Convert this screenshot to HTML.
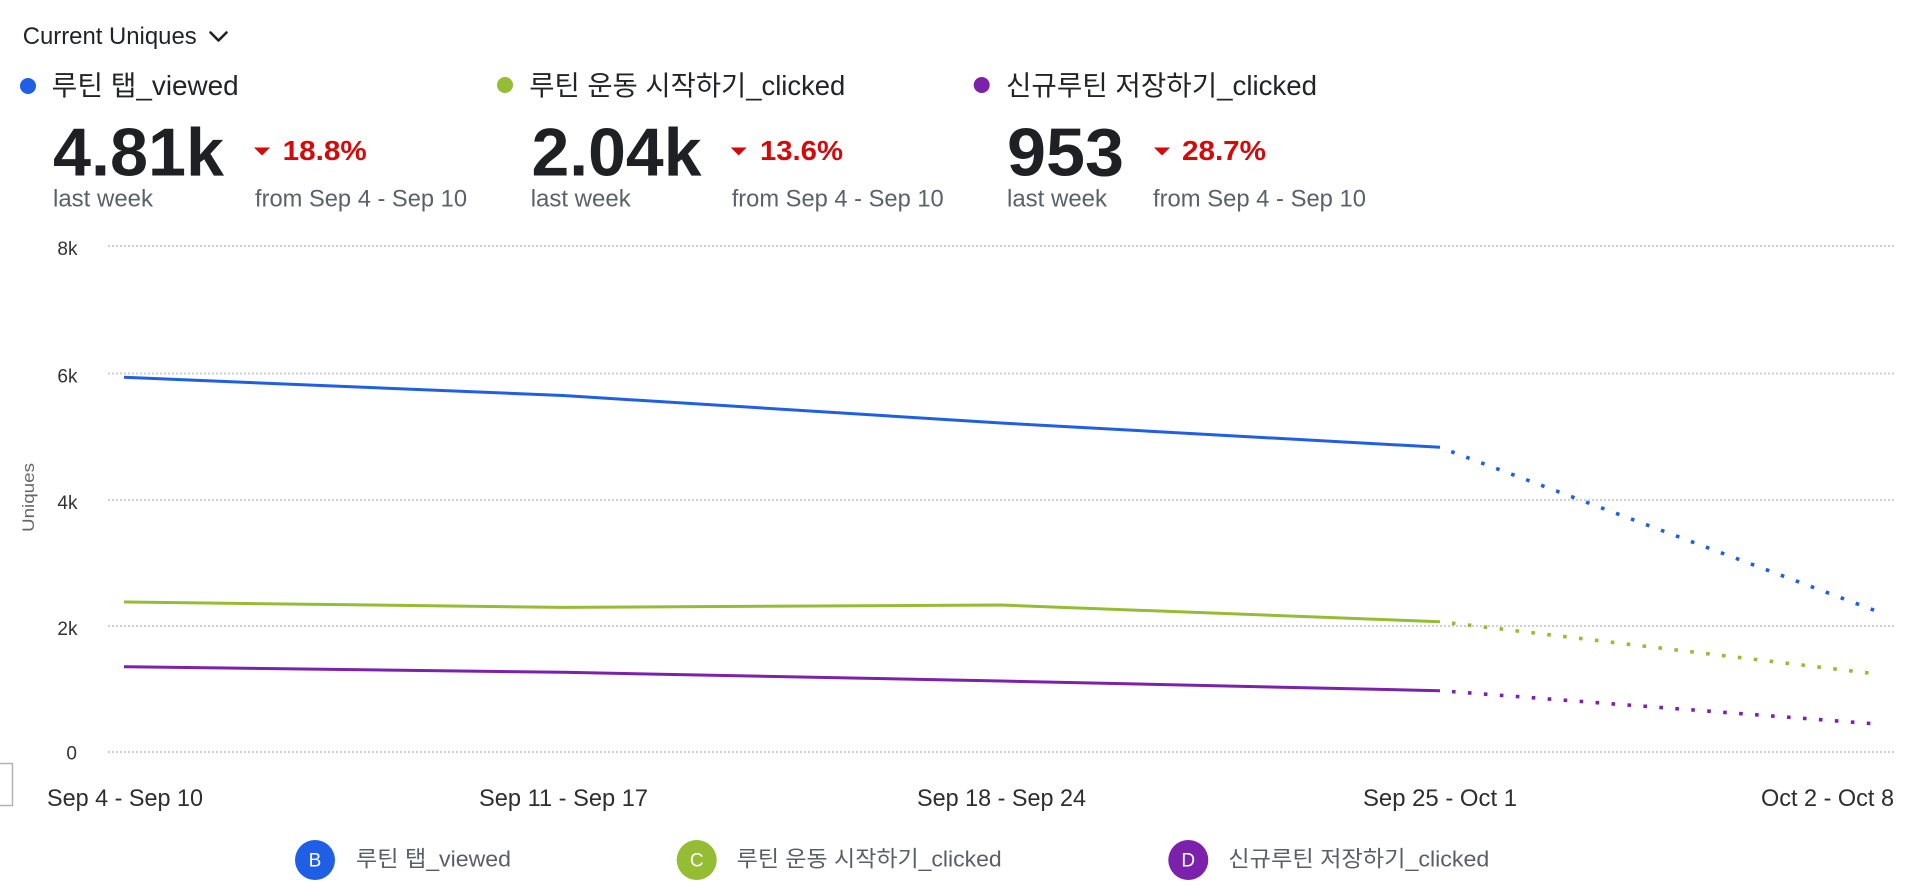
<!DOCTYPE html>
<html><head><meta charset="utf-8"><style>
html,body{margin:0;padding:0;background:#fff;}
svg{display:block;}
text{font-family:"Liberation Sans","Noto Sans CJK KR",sans-serif;}
</style></head><body>
<svg width="1920" height="886" viewBox="0 0 1920 886" xmlns="http://www.w3.org/2000/svg">
<rect width="1920" height="886" fill="#fff"/>
<!-- Header -->
<text x="22.7" y="44" font-size="24" fill="#1f2328" textLength="174" lengthAdjust="spacingAndGlyphs">Current Uniques</text>
<polyline points="210.5,32.5 218.5,40.5 226.5,32.5" fill="none" stroke="#222" stroke-width="2.6" stroke-linecap="round" stroke-linejoin="round"/>

<!-- Column 1 -->
<circle cx="28" cy="86" r="8" fill="#1f5fe6"/>
<text x="51.7" y="95" font-size="27.5" fill="#222426" textLength="187" lengthAdjust="spacingAndGlyphs">루틴 탭_viewed</text>
<text x="53" y="175.5" font-size="68" font-weight="bold" fill="#1f2024" textLength="171" lengthAdjust="spacingAndGlyphs">4.81k</text>
<polygon points="254,147.5 270,147.5 262,155.5" fill="#d40a0a"/>
<text x="282.7" y="160" font-size="28" font-weight="bold" fill="#d40a0a" textLength="84" lengthAdjust="spacingAndGlyphs">18.8%</text>
<text x="53" y="206.5" font-size="24" fill="#5c6068" textLength="100" lengthAdjust="spacingAndGlyphs">last week</text>
<text x="255" y="206.5" font-size="24" fill="#5c6068" textLength="212" lengthAdjust="spacingAndGlyphs">from Sep 4 - Sep 10</text>

<!-- Column 2 -->
<circle cx="505" cy="85" r="8" fill="#94bd34"/>
<text x="529.3" y="95" font-size="27.5" fill="#222426" textLength="316" lengthAdjust="spacingAndGlyphs">루틴 운동 시작하기_clicked</text>
<text x="531.5" y="175.5" font-size="68" font-weight="bold" fill="#1f2024" textLength="170" lengthAdjust="spacingAndGlyphs">2.04k</text>
<polygon points="730.7,147.5 746.7,147.5 738.7,155.5" fill="#d40a0a"/>
<text x="760" y="160" font-size="28" font-weight="bold" fill="#d40a0a" textLength="83" lengthAdjust="spacingAndGlyphs">13.6%</text>
<text x="530.7" y="206.5" font-size="24" fill="#5c6068" textLength="100" lengthAdjust="spacingAndGlyphs">last week</text>
<text x="731.7" y="206.5" font-size="24" fill="#5c6068" textLength="212" lengthAdjust="spacingAndGlyphs">from Sep 4 - Sep 10</text>

<!-- Column 3 -->
<circle cx="981.7" cy="85" r="8" fill="#7b21ab"/>
<text x="1006" y="95" font-size="27.5" fill="#222426" textLength="311" lengthAdjust="spacingAndGlyphs">신규루틴 저장하기_clicked</text>
<text x="1007" y="175.5" font-size="68" font-weight="bold" fill="#1f2024" textLength="117" lengthAdjust="spacingAndGlyphs">953</text>
<polygon points="1154,147.5 1170,147.5 1162,155.5" fill="#d40a0a"/>
<text x="1182" y="160" font-size="28" font-weight="bold" fill="#d40a0a" textLength="84" lengthAdjust="spacingAndGlyphs">28.7%</text>
<text x="1007" y="206.5" font-size="24" fill="#5c6068" textLength="100" lengthAdjust="spacingAndGlyphs">last week</text>
<text x="1153" y="206.5" font-size="24" fill="#5c6068" textLength="213" lengthAdjust="spacingAndGlyphs">from Sep 4 - Sep 10</text>

<!-- Gridlines -->
<g stroke="#cfcfcf" stroke-width="2" stroke-dasharray="2 2">
<line x1="108" y1="246" x2="1894" y2="246"/>
<line x1="108" y1="373.5" x2="1894" y2="373.5"/>
<line x1="108" y1="500" x2="1894" y2="500"/>
<line x1="108" y1="626" x2="1894" y2="626"/>
<line x1="108" y1="752" x2="1894" y2="752"/>
</g>
<!-- Y labels -->
<g font-size="19" fill="#333" text-anchor="end">
<text x="77.5" y="255">8k</text>
<text x="77.5" y="382.5">6k</text>
<text x="77.5" y="509">4k</text>
<text x="77.5" y="635">2k</text>
<text x="77" y="759.5">0</text>
</g>
<text transform="translate(34,497.5) rotate(-90)" text-anchor="middle" font-size="17" fill="#666" textLength="69" lengthAdjust="spacingAndGlyphs">Uniques</text>

<!-- Series -->
<g fill="none" stroke-width="3" stroke-linejoin="round">
<polyline stroke="#1f5fe6" points="124,377.3 563,395.5 1001,423 1440,447.3"/>
<polyline stroke="#94bd34" points="124,602 563,607.4 1001,605 1440,621.7"/>
<polyline stroke="#7b21ab" points="124,666.7 563,672.3 1001,681 1440,690.7"/>
</g>
<g fill="none" stroke-width="3.6" stroke-dasharray="3.6 12.4" stroke-dashoffset="4">
<line stroke="#1f5fe6" x1="1440" y1="447.3" x2="1877" y2="611.3"/>
<line stroke="#94bd34" x1="1440" y1="621.7" x2="1877" y2="674"/>
<line stroke="#7b21ab" x1="1440" y1="690.7" x2="1877" y2="724"/>
</g>

<!-- left box fragment -->
<path d="M0,763.5 H12.5 V805.5 H0" fill="none" stroke="#b3b3b3" stroke-width="1.5"/>

<!-- X labels -->
<g font-size="24" fill="#2e2e2e">
<text x="125" y="806" text-anchor="middle" textLength="156" lengthAdjust="spacingAndGlyphs">Sep 4 - Sep 10</text>
<text x="563.5" y="806" text-anchor="middle" textLength="169" lengthAdjust="spacingAndGlyphs">Sep 11 - Sep 17</text>
<text x="1001.5" y="806" text-anchor="middle" textLength="169" lengthAdjust="spacingAndGlyphs">Sep 18 - Sep 24</text>
<text x="1440" y="806" text-anchor="middle" textLength="154" lengthAdjust="spacingAndGlyphs">Sep 25 - Oct 1</text>
<text x="1894" y="806" text-anchor="end" textLength="133" lengthAdjust="spacingAndGlyphs">Oct 2 - Oct 8</text>
</g>

<!-- Bottom legend -->
<circle cx="315" cy="860" r="20" fill="#1f5fe6"/>
<text x="315" y="866.5" font-size="19" fill="#fff" text-anchor="middle">B</text>
<text x="356" y="866.5" font-size="22" fill="#5a5e66" textLength="155" lengthAdjust="spacingAndGlyphs">루틴 탭_viewed</text>

<circle cx="696.7" cy="860" r="20" fill="#94bd34"/>
<text x="696.7" y="866.5" font-size="19" fill="#fff" text-anchor="middle">C</text>
<text x="736.7" y="866.5" font-size="22" fill="#5a5e66" textLength="265" lengthAdjust="spacingAndGlyphs">루틴 운동 시작하기_clicked</text>

<circle cx="1188.3" cy="860" r="20" fill="#7b21ab"/>
<text x="1188.3" y="866.5" font-size="19" fill="#fff" text-anchor="middle">D</text>
<text x="1228.3" y="866.5" font-size="22" fill="#5a5e66" textLength="261" lengthAdjust="spacingAndGlyphs">신규루틴 저장하기_clicked</text>
</svg>
</body></html>
